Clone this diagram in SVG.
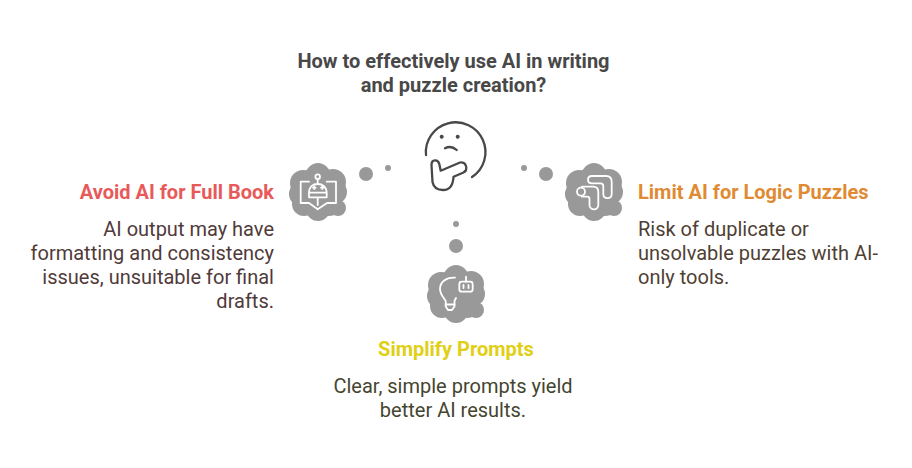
<svg xmlns="http://www.w3.org/2000/svg" width="912" height="468" viewBox="0 0 912 468">
<style>
text{font-family:Roboto,"Liberation Sans",sans-serif}
.t{font-size:20px;font-weight:700}
.b{font-size:20px;font-weight:400}
.title{font-size:20px;font-weight:700;fill:#484848}
.c{fill:#999}
.w{fill:none;stroke:#fff;stroke-width:1.800;stroke-linecap:round;stroke-linejoin:round}
.k{fill:none;stroke:#484848;stroke-width:2.300;stroke-linecap:round;stroke-linejoin:round}
.d{fill:#999}
</style>
<rect width="912" height="468" fill="#fff"/>
<defs>
<g id="cloud" class="c"><circle cx="0" cy="0" r="25"/><circle cx="0" cy="-17" r="12"/><circle cx="-15" cy="-9" r="13"/><circle cx="15" cy="-10" r="13"/><circle cx="17" cy="0" r="12"/><circle cx="-17" cy="2" r="12"/><circle cx="-14" cy="12" r="12"/><circle cx="0" cy="17" r="12"/><circle cx="11" cy="12" r="12"/><circle cx="20" cy="16" r="8"/></g>
</defs>
<g id="connectors">
<circle class="d" cx="366" cy="174" r="7"/><circle class="d" cx="388" cy="168" r="3"/>
<circle class="d" cx="546" cy="174" r="7"/><circle class="d" cx="524" cy="168" r="3"/>
<circle class="d" cx="456" cy="246" r="7"/><circle class="d" cx="456" cy="224" r="3"/>
</g>
<g id="title"><text class="title" x="453.500" y="68" text-anchor="middle">How to effectively use AI in writing</text><text class="title" x="453.500" y="92" text-anchor="middle">and puzzle creation?</text></g>
<g id="thinking">
<path class="k" d="M426 155A29.800 29.800 0 1 1 472 177"/>
<circle cx="441.700" cy="136.700" r="2" fill="#484848"/><circle cx="457.700" cy="136.700" r="2" fill="#484848"/>
<path class="k" d="M445 148.300Q451 145 456.700 150"/>
<path class="k" d="M431.500 165C431.500 159 438 159 439.300 164L440.700 170.700L460 162.500C466 161 469 170 463 172.700L453.500 176.700C453 186 449 190 443 190C437 190 433.500 187 432.500 182Z"/>
</g>
<g id="avoid">
<use href="#cloud" x="318" y="192"/>
<circle class="w" cx="317.700" cy="176.700" r="2.300"/>
<path class="w" d="M317.700 179V184M309 197.300V193C309 187 313 184 317.700 184C322.500 184 326.700 187 326.700 193V197.300ZM309 192.700H326.700M317.700 197.300V205M309 181.700H300.700V203H309L317.700 209.300L327 203H336V181.700H326.700"/>
<path class="w" stroke-width="1.300" d="M313 187.700h2.600M314.300 186.400v2.600M321 187.700h2.600M322.300 186.400v2.600"/>
<text class="t" x="274" y="199" text-anchor="end" fill="#e85a5a">Avoid AI for Full Book</text>
<g class="b" fill="#513a3a" text-anchor="end"><text x="274" y="236">AI output may have</text><text x="274" y="260">formatting and consistency</text><text x="274" y="284">issues, unsuitable for final</text><text x="274" y="308">drafts.</text></g>
</g>
<g id="limit">
<use href="#cloud" x="594" y="192"/>
<path class="w" d="M592 176H606C610 176 611.700 178 611.700 182V194C611.700 197 609.500 198.200 607.500 198.200C605.500 198.200 603.300 197 603.300 194V186C603.300 184 602.300 183.300 600.500 183.300H592C589.500 183.300 588 182 588 179.700C588 177.500 589.500 176 592 176Z"/>
<path class="w" d="M582 186.700H593C596.500 186.700 598.300 188.500 598.300 192V205C598.300 208 596 209.300 594 209.300C592 209.300 589.500 208 589.500 205V199C589.500 197.500 588.500 196.700 587 196.700H582"/>
<circle class="w" cx="581" cy="191.700" r="4"/>
<text class="t" x="638" y="199" fill="#e08a33">Limit AI for Logic Puzzles</text>
<g class="b" fill="#4f3f34"><text x="638" y="236">Risk of duplicate or</text><text x="638" y="260">unsolvable puzzles with AI-</text><text x="638" y="284">only tools.</text></g>
</g>
<g id="simplify">
<use href="#cloud" x="456" y="294"/>
<path class="w" d="M455 277.700C446 277 440 282 440 289C440 294 443 297 445.700 301V306.500L448 310H452L454.500 306.500V301L456 298"/>
<path class="w" d="M445.700 304.500H454.500"/>
<rect class="w" x="459.300" y="281.700" width="13.400" height="10" rx="2.500"/>
<path class="w" d="M466 281.700V276.700M463.500 285v3M468.500 285v3"/>
<text class="t" x="456" y="356" text-anchor="middle" fill="#e0cf14">Simplify Prompts</text>
<g class="b" fill="#45452f" text-anchor="middle"><text x="453" y="393">Clear, simple prompts yield</text><text x="453" y="417">better AI results.</text></g>
</g>
</svg>
